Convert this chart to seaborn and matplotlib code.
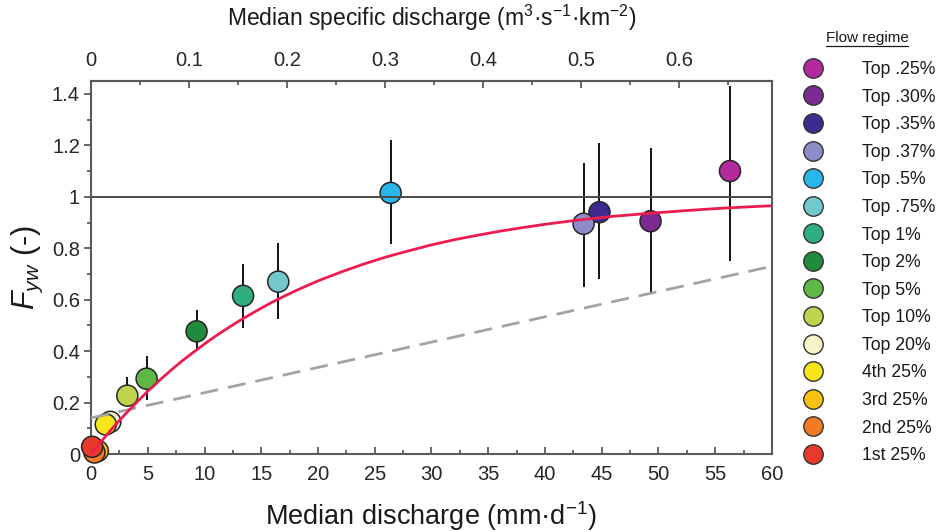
import matplotlib
matplotlib.use('Agg')
import matplotlib.pyplot as plt
from matplotlib.lines import Line2D
from matplotlib.ticker import MultipleLocator
import pandas as pd
import seaborn as sns

# Flow regimes (legend order, also drawing order)
regimes = ['Top .25%', 'Top .30%', 'Top .35%', 'Top .37%', 'Top .5%',
           'Top .75%', 'Top 1%', 'Top 2%', 'Top 5%', 'Top 10%',
           'Top 20%', '4th 25%', '3rd 25%', '2nd 25%', '1st 25%']
colors = ['#b5299e', '#7b2b92', '#3e2b8f', '#8e8bc9', '#29b6ea',
          '#72c9cd', '#2fae80', '#1f8b3b', '#5db846', '#bfd34c',
          '#f6f4c9', '#f7e51a', '#fbc111', '#f17a22', '#e9392b']
# Median discharge (mm/d) and Fyw with error bar ends
q_med = [56.3, 49.3, 44.8, 43.4, 26.4, 16.5, 13.4, 9.3, 4.9, 3.2,
         1.7, 1.3, 0.6, 0.3, 0.1]
fyw = [1.10, 0.905, 0.94, 0.895, 1.015, 0.67, 0.615, 0.477, 0.293, 0.227,
       0.125, 0.115, 0.012, 0.006, 0.028]
fyw_lo = [0.75, 0.625, 0.68, 0.65, 0.815, 0.525, 0.49, 0.40, 0.21, 0.19,
          0.125, 0.115, 0.012, 0.006, 0.028]
fyw_hi = [1.43, 1.19, 1.21, 1.13, 1.22, 0.82, 0.74, 0.56, 0.38, 0.30,
          0.125, 0.115, 0.012, 0.006, 0.028]

# Fitted curve
fit_q = [0, 0.5, 1, 1.5, 2, 3, 4, 5, 6, 7, 8, 9, 10, 11, 12, 13, 14, 15,
         16, 17, 18, 19, 20, 22, 24, 26, 28, 30, 32, 34, 36, 38, 40, 43,
         46, 49, 52, 55, 58, 60]
fit_f = [0, 0.028, 0.054, 0.080, 0.106, 0.154, 0.200, 0.244, 0.285, 0.324,
         0.361, 0.395, 0.428, 0.459, 0.488, 0.516, 0.542, 0.567, 0.591,
         0.613, 0.634, 0.654, 0.673, 0.707, 0.738, 0.766, 0.790, 0.813,
         0.833, 0.850, 0.866, 0.880, 0.893, 0.910, 0.924, 0.935, 0.945,
         0.954, 0.961, 0.965]

# Dashed reference line
ref_q = [0, 60]
ref_f = [0.14, 0.73]

# Labels
x_l   = 'Median discharge (mm\u00b7d$^{-1}$)'
x2_l  = 'Median specific discharge (m$^{3}$\u00b7s$^{-1}$\u00b7km$^{-2}$)'
y_l   = '$F_{yw}$ (-)'
leg_t = 'Flow regime'
# Colors
axis_c  = '#5a5a5a'
fit_c   = '#ec1c4f'
ref_c   = '#a3a3a3'
one_c   = '#4a4a4a'
txt_c   = '#1a1a1a'

sns.set_style('ticks')
plt.rcParams['font.family'] = ['Liberation Sans', 'DejaVu Sans']
plt.rcParams['mathtext.fontset'] = 'custom'
plt.rcParams['mathtext.rm'] = 'Liberation Sans'
plt.rcParams['mathtext.it'] = 'Liberation Sans:italic'

df = pd.DataFrame({'Q': q_med, 'F': fyw, 'regime': regimes})
fitdf = pd.DataFrame({'Q': fit_q, 'F': fit_f})
refdf = pd.DataFrame({'Q': ref_q, 'F': ref_f})
palette = dict(zip(regimes, colors))

fig, ax = plt.subplots(figsize=(9.5, 5.32), dpi=100)
fig.subplots_adjust(left=0.0958, right=0.8126, bottom=0.1466, top=0.8477)

# Error bars behind the points
ax.vlines(q_med, fyw_lo, fyw_hi, color='black', lw=1.3, zorder=2)

sns.scatterplot(data=df, x='Q', y='F', hue='regime', hue_order=regimes,
                palette=palette, s=230, edgecolor='#262626', linewidth=1.1,
                legend=False, zorder=3, clip_on=False, ax=ax)

# Horizontal line at 1
ax.axhline(1, color=one_c, lw=1.4, zorder=4)

sns.lineplot(data=refdf, x='Q', y='F', color=ref_c, lw=2,
             dashes=False, zorder=4, ax=ax)
ax.lines[-1].set_dashes([6.5, 3.6])
sns.lineplot(data=fitdf, x='Q', y='F', color=fit_c, lw=2, zorder=5, ax=ax)

# Axis limits and ticks
ax.set_xlim(0, 60)
ax.set_ylim(0, 1.45)
ax.xaxis.set_major_locator(MultipleLocator(5))
ax.xaxis.set_minor_locator(MultipleLocator(2.5))
ax.yaxis.set_minor_locator(MultipleLocator(0.1))
ax.set_yticks([0, 0.2, 0.4, 0.6, 0.8, 1.0, 1.2, 1.4])
ax.set_yticklabels(['0', '0.2', '0.4', '0.6', '0.8', '1', '1.2', '1.4'])

ax.tick_params(axis='x', which='major', direction='in', length=5,
               width=1.3, color=axis_c, labelsize=14.5, pad=8)
ax.tick_params(axis='x', which='minor', direction='in', length=3,
               width=1.3, color=axis_c)
ax.tick_params(axis='y', which='major', direction='out', length=5,
               width=1.3, color=axis_c, labelsize=14.5, pad=3)
ax.tick_params(axis='y', which='minor', direction='out', length=3,
               width=1.3, color=axis_c)
ax.tick_params(labelcolor='#262626')

for sp in ax.spines.values():
    sp.set_visible(True)
    sp.set_color(axis_c)
    sp.set_linewidth(1.5)

ax.set_xlabel(x_l, fontsize=19.5, labelpad=11, color=txt_c)
ax.set_ylabel(y_l, fontsize=22, labelpad=5, color=txt_c)

# Top axis: specific discharge (m3/s/km2) = mm/d / 86.4
ax2 = ax.secondary_xaxis('top', functions=(lambda q: q / 86.4,
                                           lambda s: s * 86.4))
ax2.xaxis.set_minor_locator(MultipleLocator(0.05))
ax2.set_xticks([0, 0.1, 0.2, 0.3, 0.4, 0.5, 0.6])
ax2.set_xticklabels(['0', '0.1', '0.2', '0.3', '0.4', '0.5', '0.6'])
ax2.tick_params(axis='x', which='major', direction='in', length=5,
                width=1.3, color=axis_c, labelsize=14.5, pad=8,
                labelcolor='#262626')
ax2.tick_params(axis='x', which='minor', direction='in', length=3,
                width=1.3, color=axis_c)
ax2.spines['top'].set_color(axis_c)
ax2.spines['top'].set_linewidth(1.5)
ax2.set_xlabel(x2_l, fontsize=16.5, labelpad=18, color=txt_c)

# Legend (title drawn separately so it can be underlined)
handles = [Line2D([], [], ls='none', marker='o', markersize=14,
                  markerfacecolor=c, markeredgecolor='#333333',
                  markeredgewidth=1.0) for c in colors]
leg = ax.legend(handles, regimes, loc='upper left',
                bbox_to_anchor=(795 / 950, 1 - 61 / 532),
                bbox_transform=fig.transFigure, frameon=False,
                fontsize=12.7, borderpad=0, borderaxespad=0,
                handletextpad=1.78, labelspacing=0.60, handlelength=2.0)
for t in leg.get_texts():
    t.set_color(txt_c)

title = fig.text(867 / 950, 1 - 38 / 532, leg_t, ha='center', va='center',
                 fontsize=11, color=txt_c)

# Underline the legend title
fig.canvas.draw()
bb = title.get_window_extent()
fig.add_artist(Line2D([bb.x0, bb.x1], [bb.y0 - 1, bb.y0 - 1],
                      transform=None, color=txt_c, lw=0.9))

plt.savefig('out.png', dpi=100)
plt.close(fig)
